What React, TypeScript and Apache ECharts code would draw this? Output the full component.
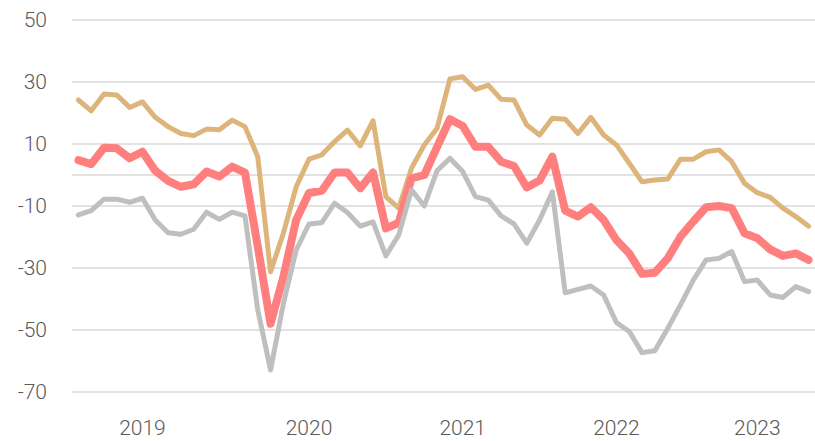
import React, { useEffect, useRef } from "react";
import * as echarts from "echarts";

const startYear = 2018;
const startMonth = 8; // August
const pointCount = 58;

const yearLabels = ["2019", "2020", "2021", "2022", "2023"];
const yearLabelIndex = [5, 18, 30, 42, 53];

const yTickLabels = [-70, -50, -30, -10, 10, 30, 50];

const tanSeries = [
  24.2, 20.7, 26.1, 25.8, 21.8, 23.6, 18.6, 15.6, 13.4, 12.7, 14.8, 14.6, 17.7, 15.6, 5.9, -31.2,
  -18.8, -3.8, 5.1, 6.5, 10.8, 14.5, 9.4, 17.5, -7.0, -10.7, 2.2, 9.7, 15.1, 31.0, 31.7, 27.6,
  29.0, 24.4, 24.2, 16.1, 12.9, 18.3, 18.0, 13.4, 18.6, 12.9, 9.7, 3.8, -2.2, -1.6, -1.3, 5.1,
  5.1, 7.5, 8.1, 4.3, -2.7, -5.7, -7.2, -10.7, -13.4, -16.5,
];

const redSeries = [
  4.8, 3.5, 8.8, 8.6, 5.4, 7.5, 1.4, -1.9, -3.8, -3.0, 1.1, -0.5, 2.7, 0.8, -23.0, -48.0,
  -32.8, -14.5, -5.8, -5.1, 0.8, 0.8, -4.3, 0.8, -17.2, -15.4, -1.1, 0.0, 9.1, 18.0, 15.8, 9.1,
  9.1, 4.3, 2.9, -4.0, -1.8, 5.9, -11.5, -13.4, -10.4, -14.5, -21.0, -25.3, -31.9, -31.5, -26.9, -19.9,
  -15.0, -10.4, -10.0, -10.7, -18.8, -20.4, -24.0, -26.1, -25.3, -27.4,
];

const greySeries = [
  -12.9, -11.5, -7.8, -7.8, -8.8, -7.5, -14.5, -18.6, -19.1, -17.5, -12.0, -14.3, -12.0, -13.2, -43.5, -62.9,
  -41.5, -24.2, -15.8, -15.4, -9.1, -12.1, -16.5, -15.1, -26.1, -19.4, -4.8, -10.0, 1.4, 5.4, 1.1, -7.0,
  -8.1, -13.2, -15.8, -22.0, -14.5, -5.4, -38.0, -36.9, -35.8, -38.7, -47.6, -50.5, -57.3, -56.7, -49.5, -41.9,
  -33.9, -27.4, -26.9, -24.7, -34.4, -33.9, -38.7, -39.5, -36.0, -37.6,
];

const categories: string[] = [];
for (let i = 0; i < pointCount; i++) {
  const m = startMonth - 1 + i;
  const y = startYear + Math.floor(m / 12);
  const mm = (m % 12) + 1;
  categories.push(`${y}-${mm < 10 ? "0" + mm : mm}`);
}

const GRID = "#d9d9d9";
// split line colours for ticks -70..50 step 10 (visible at -70,-50,-30,-10,0,10,30,50)
const splitColors = [
  GRID, "rgba(0,0,0,0)", GRID, "rgba(0,0,0,0)", GRID, "rgba(0,0,0,0)", GRID,
  GRID, GRID, "rgba(0,0,0,0)", GRID, "rgba(0,0,0,0)", GRID,
];

export default function App() {
  const ref = useRef<HTMLDivElement>(null);
  useEffect(() => {
    if (!ref.current) return;
    const chart = echarts.init(ref.current, undefined, { renderer: "svg" });
    const labelFont = {
      fontFamily: "Roboto",
      fontWeight: 300 as any,
      fontSize: 21,
      color: "#595959",
    };
    chart.setOption({
      animation: false,
      backgroundColor: "#ffffff",
      grid: { left: 72, right: 0, top: 20, bottom: 49 },
      xAxis: {
        type: "category",
        data: categories,
        boundaryGap: true,
        axisLine: { show: false },
        axisTick: { show: false },
        splitLine: { show: false },
        axisLabel: {
          ...labelFont,
          margin: 25,
          interval: (index: number) => yearLabelIndex.indexOf(index) >= 0,
          formatter: (_v: string, index: number) => {
            const k = yearLabelIndex.indexOf(index);
            return k >= 0 ? yearLabels[k] : "";
          },
        },
      },
      yAxis: {
        type: "value",
        min: -70,
        max: 50,
        interval: 10,
        axisLine: { show: false },
        axisTick: { show: false },
        axisLabel: {
          ...labelFont,
          margin: 25,
          formatter: (v: number) => (yTickLabels.indexOf(v) >= 0 ? String(v) : ""),
        },
        splitLine: { show: true, lineStyle: { color: splitColors, width: 1.5 } },
      },
      series: [
        {
          name: "tan",
          type: "line",
          data: tanSeries,
          showSymbol: false,
          symbol: "none",
          lineStyle: { color: "#DDB57B", width: 5, cap: "round", join: "round" },
          z: 2,
        },
        {
          name: "red",
          type: "line",
          data: redSeries,
          showSymbol: false,
          symbol: "none",
          lineStyle: { color: "#FF7F7F", width: 8, cap: "round", join: "round" },
          z: 3,
        },
        {
          name: "grey",
          type: "line",
          data: greySeries,
          showSymbol: false,
          symbol: "none",
          lineStyle: { color: "#BFBFBF", width: 5, cap: "round", join: "round" },
          z: 4,
        },
      ],
    });
    return () => chart.dispose();
  }, []);
  return <div ref={ref} style={{ width: 815, height: 441, position: "absolute", left: 0, top: 0 }} />;
}
